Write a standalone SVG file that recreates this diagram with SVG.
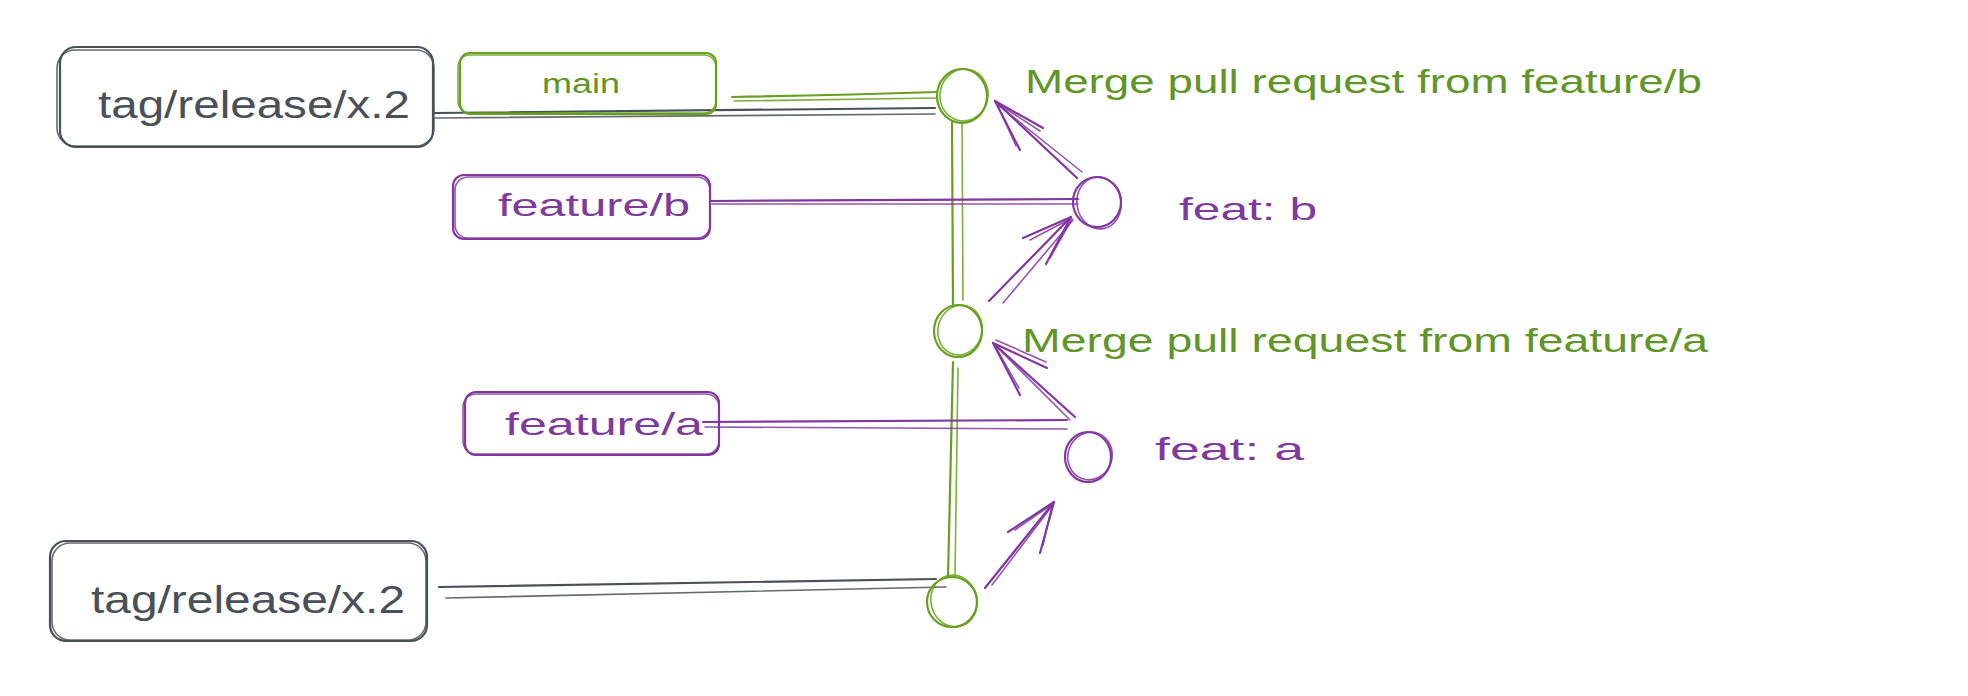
<svg xmlns="http://www.w3.org/2000/svg" width="1968" height="696" viewBox="0 0 1968 696">
<defs>
<style>
.gray{fill:none;stroke:#495057;stroke-width:2.2;stroke-linecap:round;stroke-linejoin:round}
.green{fill:none;stroke:#66a01e;stroke-width:2.2;stroke-linecap:round;stroke-linejoin:round}
.purple{fill:none;stroke:#8236a0;stroke-width:2.2;stroke-linecap:round;stroke-linejoin:round}
.thin{stroke-width:1.6;opacity:0.85}
.t{font-family:"Liberation Sans",Arial,sans-serif}
.tg{fill:#495057}
.tgr{fill:#5f9627}
.tp{fill:#7e3a9e}
</style>
</defs>
<rect x="0" y="0" width="1968" height="696" fill="#ffffff"/>

<g id="connectors">
  <!-- top tag to main commit -->
  <path class="gray" d="M435 113 L935 108"/>
  <path class="gray thin" d="M435 118 L935 114"/>
  <!-- main label to main commit -->
  <path class="green" d="M732 97 Q840 95 937 92"/>
  <path class="green thin" d="M734 101 Q840 99 937 98"/>
  <!-- vertical main line -->
  <path class="green" d="M952 122 L953 306"/>
  <path class="green thin" d="M962 121 L963 300"/>
  <path class="green" d="M953 362 L948 577"/>
  <path class="green thin" d="M958 368 L955 577"/>
  <!-- feature/b branch line -->
  <path class="purple" d="M710 201 L1078 199"/>
  <path class="purple thin" d="M712 204 L1078 204"/>
  <!-- feature/a branch line -->
  <path class="purple" d="M703 422 L1067 420"/>
  <path class="purple thin" d="M705 427 L1067 429"/>
  <!-- bottom tag to bottom commit -->
  <path class="gray" d="M439 587 L936 579"/>
  <path class="gray thin" d="M446 598 L946 587"/>
  <!-- arrow feat b -> merge b -->
  <path class="purple" d="M1077 178 L995 101"/>
  <path class="purple thin" d="M1082 172 L997 104"/>
  <path class="purple" d="M995 101 L1043 128 M995 101 L1020 150"/>
  <path class="purple thin" d="M997 103 L1040 131 M997 104 L1016 146"/>
  <!-- arrow merge a -> feat b -->
  <path class="purple" d="M989 301 L1071 217"/>
  <path class="purple thin" d="M1003 303 L1073 220"/>
  <path class="purple" d="M1071 217 L1023 238 M1071 217 L1046 264"/>
  <path class="purple thin" d="M1070 219 L1030 240 M1072 219 L1050 258"/>
  <!-- arrow feat a -> merge a -->
  <path class="purple" d="M1075 417 L993 343"/>
  <path class="purple thin" d="M1070 420 L996 346"/>
  <path class="purple" d="M993 343 L1047 368 M993 343 L1020 395"/>
  <path class="purple thin" d="M996 340 L1046 362 M995 346 L1019 388"/>
  <!-- arrow bottom commit -> feat a -->
  <path class="purple" d="M985 588 L1054 502"/>
  <path class="purple thin" d="M992 585 L1052 506"/>
  <path class="purple" d="M1054 502 L1008 532 M1054 502 L1040 553"/>
  <path class="purple thin" d="M1051 505 L1015 530 M1052 506 L1043 545"/>
</g>

<g id="tag-top">
  <rect class="gray" x="60" y="47" width="373" height="100" rx="16"/>
  <rect class="gray thin" x="57" y="50" width="377" height="96" rx="18"/>
  <text class="t tg" x="98" y="118" font-size="38" textLength="312" lengthAdjust="spacingAndGlyphs">tag/release/x.2</text>
</g>

<g id="main-label">
  <rect class="green" x="460" y="53" width="256" height="61" rx="10"/>
  <rect class="green thin" x="458" y="55" width="258" height="58" rx="12"/>
  <text class="t tgr" x="542" y="93" font-size="27" textLength="78" lengthAdjust="spacingAndGlyphs">main</text>
</g>

<g id="commit-merge-b">
  <ellipse class="green" cx="962" cy="96" rx="25" ry="27"/>
  <ellipse class="green thin" cx="964" cy="95" rx="24" ry="26" transform="rotate(12 964 95)"/>
  <text class="t tgr" x="1025" y="93" font-size="34" textLength="677" lengthAdjust="spacingAndGlyphs">Merge pull request from feature/b</text>
</g>

<g id="feature-b-label">
  <rect class="purple" x="453" y="175" width="257" height="64" rx="11"/>
  <rect class="purple thin" x="455" y="177" width="255" height="61" rx="13"/>
  <text class="t tp" x="498" y="216" font-size="32" textLength="192" lengthAdjust="spacingAndGlyphs">feature/b</text>
</g>

<g id="commit-feat-b">
  <ellipse class="purple" cx="1097" cy="202" rx="24" ry="25"/>
  <ellipse class="purple thin" cx="1099" cy="203" rx="22" ry="26" transform="rotate(-10 1099 203)"/>
  <text class="t tp" x="1179" y="220" font-size="32" textLength="138" lengthAdjust="spacingAndGlyphs">feat: b</text>
</g>

<g id="commit-merge-a">
  <ellipse class="green" cx="958" cy="331" rx="24" ry="26"/>
  <ellipse class="green thin" cx="960" cy="330" rx="22" ry="25" transform="rotate(15 960 330)"/>
  <text class="t tgr" x="1022" y="352" font-size="34" textLength="686" lengthAdjust="spacingAndGlyphs">Merge pull request from feature/a</text>
</g>

<g id="feature-a-label">
  <rect class="purple" x="465" y="392" width="254" height="63" rx="11"/>
  <rect class="purple thin" x="463" y="394" width="256" height="60" rx="13"/>
  <text class="t tp" x="505" y="435" font-size="32" textLength="198" lengthAdjust="spacingAndGlyphs">feature/a</text>
</g>

<g id="commit-feat-a">
  <ellipse class="purple" cx="1088" cy="457" rx="23" ry="25"/>
  <ellipse class="purple thin" cx="1090" cy="456" rx="22" ry="24" transform="rotate(20 1090 456)"/>
  <text class="t tp" x="1155" y="460" font-size="32" textLength="149" lengthAdjust="spacingAndGlyphs">feat: a</text>
</g>

<g id="tag-bottom">
  <rect class="gray" x="50" y="541" width="377" height="100" rx="16"/>
  <rect class="gray thin" x="52" y="543" width="374" height="97" rx="18"/>
  <text class="t tg" x="91" y="613" font-size="38" textLength="314" lengthAdjust="spacingAndGlyphs">tag/release/x.2</text>
</g>

<g id="commit-bottom">
  <ellipse class="green" cx="952" cy="602" rx="25" ry="25"/>
  <ellipse class="green thin" cx="954" cy="601" rx="23" ry="26" transform="rotate(-15 954 601)"/>
</g>
</svg>
